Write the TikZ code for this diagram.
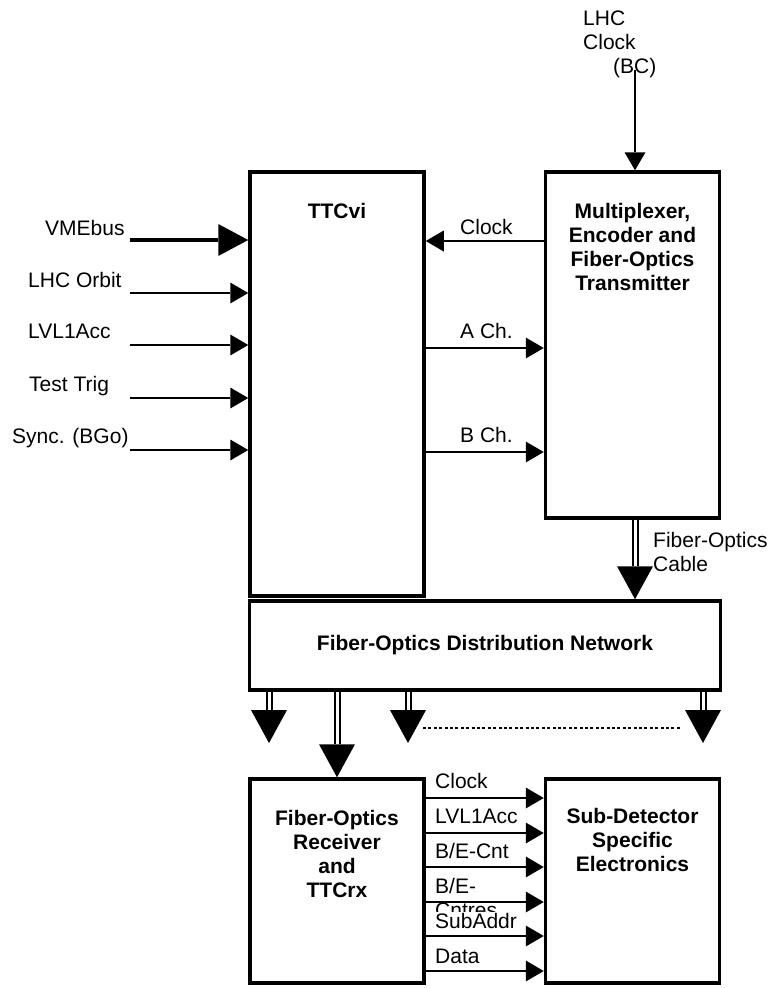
\documentclass[tikz,border=0pt]{standalone}
\usepackage{fontspec}
\setmainfont{Liberation Sans}
\usetikzlibrary{arrows.meta}
\begin{document}
\begin{tikzpicture}[x=1pt,y=-1pt,
  font=\fontsize{21}{24}\selectfont,
  box/.style={draw, line width=3.5pt, rectangle, inner sep=0pt},
  lbl/.style={inner sep=0pt, anchor=base west},
  mlbl/.style={inner sep=0pt, anchor=north west, align=left},
  ttl/.style={inner sep=0pt, anchor=north, align=center, font=\fontsize{21}{24}\selectfont\bfseries},
  sig/.style={line width=2pt, -{Triangle[length=18pt,width=21pt,line width=0pt]}},
  bus/.style={line width=4.5pt, -{Triangle[length=30pt,width=32pt,line width=0pt]}},
  fiber/.style={line width=2pt, double distance=3pt, -{Triangle[length=33pt,width=36pt,line width=0pt]}},
]
\useasboundingbox (0,0) rectangle (770,988);

% boxes
\node[box, minimum width=174pt, minimum height=424pt] (ttcvi) at (337,384) {};
\node[box, minimum width=174pt, minimum height=346pt] (mux) at (632.5,345) {};
\node[box, minimum width=471pt, minimum height=89pt] (dist) at (485,645.5) {};
\node[box, minimum width=174pt, minimum height=204pt] (rx) at (337,881) {};
\node[box, minimum width=174pt, minimum height=204pt] (sd) at (632.5,881) {};

% box titles
\node[ttl] (ttcvit) at (337,203) {TTCvi};
\node[ttl] (muxt) at (632.5,203) {Multiplexer,\\Encoder and\\Fiber-Optics\\Transmitter};
\node[ttl] (distt) at (485,635) {Fiber-Optics Distribution Network};
\node[ttl] (rxt) at (337,810) {Fiber-Optics\\Receiver\\and\\TTCrx};
\node[ttl] (sdt) at (632.5,808) {Sub-Detector\\Specific\\Electronics};

% LHC clock
\node[mlbl] (lhct) at (583,11) {LHC\\Clock\\\hspace*{30pt}(BC)};
\coordinate (lhcS) at (635,70);
\draw[sig] (lhcS) -- (lhcS |- mux.north);

% left inputs
\node[lbl] (vmet) at (45,235) {VMEbus};
\node[lbl] (orbt) at (28,287) {LHC Orbit};
\node[lbl] (l1t) at (28,338) {LVL1Acc};
\node[lbl] (ttt) at (29,391) {Test Trig};
\node[lbl] (synt) at (12,443) {Sync. (BGo)};
\coordinate (vmeS) at (130,240);
\coordinate (orbS) at (130,293);
\coordinate (l1S) at (130,345);
\coordinate (ttS) at (130,398);
\coordinate (synS) at (130,450);
\draw[bus] (vmeS) -- (vmeS -| ttcvi.west);
\draw[sig] (orbS) -- (orbS -| ttcvi.west);
\draw[sig] (l1S) -- (l1S -| ttcvi.west);
\draw[sig] (ttS) -- (ttS -| ttcvi.west);
\draw[sig] (synS) -- (synS -| ttcvi.west);

% TTCvi <-> mux
\node[lbl] (clkt) at (460,234) {Clock};
\node[lbl] (acht) at (460,338) {A Ch.};
\node[lbl] (bcht) at (460,442) {B Ch.};
\draw[sig] (mux.west |- 0,241) -- (ttcvi.east |- 0,241);
\draw[sig] (ttcvi.east |- 0,348) -- (mux.west |- 0,348);
\draw[sig] (ttcvi.east |- 0,452) -- (mux.west |- 0,452);

% fiber cable
\node[mlbl] (cablet) at (653,532) {Fiber-Optics\\Cable};
\coordinate (cabX) at (635,0);
\draw[fiber] (mux.south -| cabX) -- (dist.north -| cabX);

% distribution outputs
\coordinate (o1) at (269,743);
\coordinate (o3) at (408,743);
\coordinate (o4) at (703,743);
\draw[fiber] (o1 |- dist.south) -- (o1);
\draw[fiber] (dist.south -| rx.north) -- (rx.north);
\draw[fiber] (o3 |- dist.south) -- (o3);
\draw[fiber] (o4 |- dist.south) -- (o4);
\coordinate (dotS) at (423,728);
\coordinate (dotE) at (682,728);
\draw[line width=2pt, dash pattern=on 3pt off 2.4pt] (dotS) -- (dotE);

% receiver -> sub-detector signals
\node[lbl] (s1t) at (435,788) {Clock};
\node[lbl] (s2t) at (435,823) {LVL1Acc};
\node[lbl] (s3t) at (435,858) {B/E-Cnt};
\node[mlbl] (s4t) at (435,878) {B/E-\\Cntres};
\node[lbl, fill=white, text height=16pt, text depth=5pt] (s5t) at (435,928) {SubAddr};
\node[lbl] (s6t) at (435,963) {Data};
\foreach \yy in {798,833,867,902,936,971}{
  \draw[sig] (rx.east |- 0,\yy) -- (sd.west |- 0,\yy);
}
\end{tikzpicture}
\end{document}
